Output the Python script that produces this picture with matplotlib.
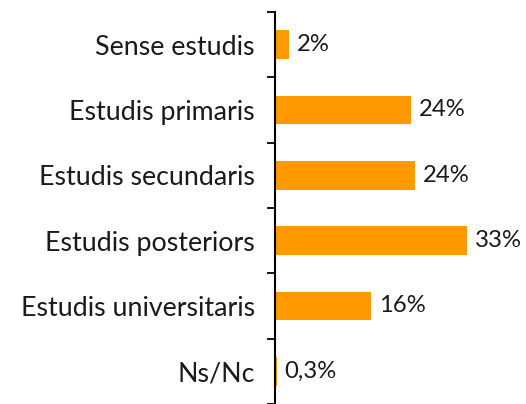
import matplotlib
matplotlib.use('Agg')
import matplotlib.pyplot as plt

# Dades del gràfic
categories = ['Sense estudis', 'Estudis primaris', 'Estudis secundaris',
              'Estudis posteriors', 'Estudis universitaris', 'Ns/Nc']
values = [2.4, 23.4, 24.1, 33.0, 16.5, 0.3]
labels = ['2%', '24%', '24%', '33%', '16%', '0,3%']

plt.rcParams['font.family'] = ['Lato', 'DejaVu Sans']

fig = plt.figure(figsize=(5.26, 4.04), dpi=100)
ax = fig.add_axes([275 / 526, 0.0, 1 - 275 / 526, 1 - 12 / 404])

y = list(range(len(categories)))
ax.barh(y, values, height=0.44, color='#FF9900', zorder=1)

for yi, v, lab in zip(y, values, labels):
    ax.text(v + 1.3, yi, lab, va='center', ha='left', fontsize=17.2, color='#1a1a1a')

ax.set_xlim(0, 43.1)
ax.set_ylim(len(categories) - 0.5, -0.5)

ax.set_yticks(y)
ax.set_yticklabels(categories, fontsize=19.3, color='#1a1a1a')
ax.set_yticks([i - 0.5 for i in range(len(categories) + 1)], minor=True)
ax.tick_params(axis='y', which='major', length=0, pad=14.5)
ax.tick_params(axis='y', which='minor', length=6, width=1.3, direction='out')

ax.set_xticks([])
for s in ['top', 'right', 'bottom']:
    ax.spines[s].set_visible(False)
ax.spines['left'].set_linewidth(1.5)
ax.spines['left'].set_zorder(3)

fig.savefig('out.png', dpi=100)
